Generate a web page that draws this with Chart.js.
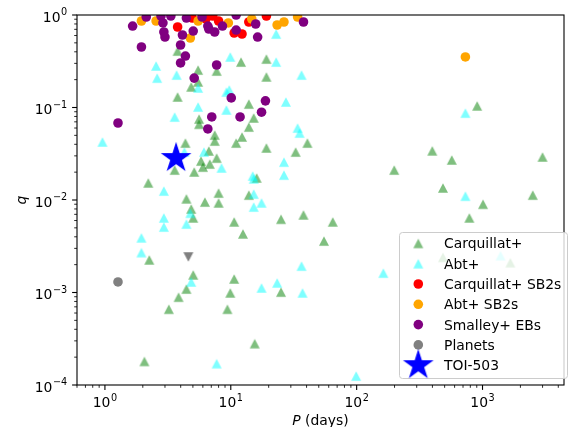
<!DOCTYPE html>
<html><head><meta charset="utf-8">
<script src="https://cdn.jsdelivr.net/npm/chart.js@4.4.0/dist/chart.umd.min.js"></script>
<style>html,body{margin:0;padding:0;background:#fff;}#wrap{width:579px;height:427px;}</style>
</head><body><div id="wrap"><canvas id="c" width="579" height="427"></canvas></div>
<script>
// ---------------- data (period P in days, mass ratio q) ----------------
const carquillatP = [3.78,5.5,7.72,12.06,19.19,19.19,5.5,4.85,3.78,13.91,15.21,5.6,5.6,13.91,7.45,7.45,12.28,11.03,4.36,19.19,32.78,40.6,6.69,7.72,5.80,6.01,6.81,3.58,5.12,16.05,2.21,8.0,4.44,6.23,8.0,13.91,4.85,5.03,10.64,12.5,25.07,37.81,2.25,5.03,4.44,3.85,3.22,10.64,9.91,9.40,25.07,15.49,2.06,55.0,64.6,906.6,398.9,570,2997,198.8,485,1009,2507,786,1663,485];
const carquillatQ = [0.408,0.254,0.248,0.310,0.334,0.214,0.189,0.167,0.130,0.109,0.077,0.075,0.066,0.0615,0.0504,0.0434,0.048,0.0413,0.0413,0.0365,0.033,0.0413,0.0339,0.0284,0.0264,0.0227,0.0245,0.0211,0.0201,0.0173,0.0153,0.0119,0.0103,0.0095,0.0093,0.0113,0.0080,0.0064,0.0058,0.0043,0.0062,0.0069,0.00225,0.00155,0.00109,0.00089,0.00066,0.0014,0.00099,0.00066,0.00101,0.00028,0.00018,0.0036,0.0058,0.104,0.034,0.0271,0.0292,0.0211,0.0135,0.0090,0.0113,0.0064,0.0021,0.0024];
const abtP = [22.94,9.91,22.94,2.55,2.60,3.71,36.48,5.5,9.23,9.73,27.42,5.5,3.58,9.23,33.96,35.2,0.956,6.12,4.28,8.44,26.45,26.45,14.94,15.21,2.94,15.21,17.55,15.21,4.77,2.94,2.94,4.44,1.95,1.95,4.85,17.55,23.35,36.48,37.14,7.72,731,731,163,99.1,1391];
const abtQ = [0.623,0.352,0.31,0.281,0.208,0.2245,0.2245,0.1625,0.147,0.155,0.1147,0.1013,0.0789,0.094,0.060,0.053,0.0424,0.033,0.033,0.0222,0.0257,0.0186,0.0182,0.0169,0.0125,0.0116,0.0093,0.0084,0.0072,0.0064,0.0051,0.0055,0.0039,0.0027,0.0013,0.00112,0.00127,0.00193,0.00099,0.00017,0.087,0.011,0.00162,0.000125,0.0025];
const carqSB2P = [3.78,4.94,6.34,7.19,8.0,10.64,12.28,13.91,19.19];
const carqSB2Q = [0.742,0.928,0.905,0.975,0.861,0.639,0.623,0.84,0.975];
const abtSB2P = [1.95,2.55,4.77,5.5,9.56,14.68,23.35,26.45,33.96,731];
const abtSB2Q = [0.861,0.861,0.564,0.861,0.82,0.905,0.78,0.84,0.951,0.352];
const smalleyP = [1.66,2.13,2.79,2.89,2.94,3.0,3.34,1.95,4.13,3.99,4.36,3.99,4.44,5.03,5.91,6.57,7.45,8.59,11.03,11.03,15.77,16.34,37.81,7.72,5.12,10.09,18.85,17.55,11.85,7.06,6.57,1.27,6.69];
const smalleyQ = [0.76,0.951,0.975,0.82,0.655,0.578,0.975,0.451,0.608,0.474,0.36,0.303,0.928,0.671,0.951,0.76,0.655,0.76,0.688,1.0,0.799,0.578,0.84,0.288,0.208,0.127,0.118,0.089,0.079,0.079,0.0586,0.068,0.706];
const planetP = [1.27];
const planetQ = [0.0013];
const planetLimP = [4.6];
const planetLimQ = [0.00242];
const toiP = [3.6772];
const toiQ = [0.0284];
const xTickPowers = [0, 1, 2, 3];
const yTickPowers = [0, -1, -2, -3, -4];
const legendLabels = ['Carquillat+', 'Abt+', 'Carquillat+ SB2s', 'Abt+ SB2s', 'Smalley+ EBs', 'Planets', 'TOI-503'];
const X_MIN = 0.6343, X_MAX = 4440, Y_MIN = 1e-4, Y_MAX = 1;

// ---------------- marker sprites ----------------
function triCanvas(color, up) {
  const S = 14, c = S / 2, hw = 5.0, hh = 4.7;
  const cv = document.createElement('canvas'); cv.width = cv.height = S;
  const g = cv.getContext('2d');
  g.beginPath();
  if (up) { g.moveTo(c, c - hh); g.lineTo(c + hw, c + hh); g.lineTo(c - hw, c + hh); }
  else { g.moveTo(c, c + hh); g.lineTo(c + hw, c - hh); g.lineTo(c - hw, c - hh); }
  g.closePath(); g.fillStyle = color; g.fill();
  return cv;
}
function starCanvas(color, R) {
  const r = R * 0.381966, S = 34, c = S / 2;
  const cv = document.createElement('canvas'); cv.width = cv.height = S;
  const g = cv.getContext('2d');
  g.beginPath();
  for (let i = 0; i < 10; i++) {
    const rad = i % 2 ? r : R, ang = -Math.PI / 2 + i * Math.PI / 5;
    const px = c + rad * Math.cos(ang), py = c + rad * Math.sin(ang);
    if (i) g.lineTo(px, py); else g.moveTo(px, py);
  }
  g.closePath(); g.fillStyle = color; g.fill();
  g.lineWidth = 1.39; g.strokeStyle = color; g.lineJoin = 'miter'; g.stroke();
  return cv;
}
const greenTri = triCanvas('rgba(0,128,0,0.5)', true);
const cyanTri = triCanvas('rgba(0,255,255,0.5)', true);
const greyTri = triCanvas('#808080', false);
const blueStar = starCanvas('#0000ff', 13.9);

const pts = (P, Q) => P.map((p, i) => ({ x: p, y: Q[i] }));
const circ = (label, P, Q, color, order) => ({ label, data: pts(P, Q), pointStyle: 'circle', pointRadius: 4.8, borderWidth: 0, backgroundColor: color, borderColor: color, order, clip: 0 });

const datasets = [
  { label: legendLabels[0], data: pts(carquillatP, carquillatQ), pointStyle: greenTri, pointRadius: 5, order: 8, clip: 0 },
  { label: legendLabels[1], data: pts(abtP, abtQ), pointStyle: cyanTri, pointRadius: 5, order: 7, clip: 0 },
  circ(legendLabels[2], carqSB2P, carqSB2Q, '#ff0000', 6),
  circ(legendLabels[3], abtSB2P, abtSB2Q, '#ffa500', 5),
  circ(legendLabels[4], smalleyP, smalleyQ, '#800080', 4),
  circ(legendLabels[5], planetP, planetQ, '#808080', 3),
  { label: '', data: pts(planetLimP, planetLimQ), pointStyle: greyTri, pointRadius: 5, order: 2, clip: 0 },
  { label: legendLabels[6], data: pts(toiP, toiQ), pointStyle: blueStar, pointRadius: 14, order: 1, clip: 0 }
];

const FONT = '"DejaVu Sans", Verdana, sans-serif';
function drawPow(ctx, e, x, baseY, align) {
  const base = '10', sup = (e < 0 ? '\u2212' : '') + Math.abs(e);
  ctx.font = '13.9px ' + FONT; const wb = ctx.measureText(base).width;
  ctx.font = '9.7px ' + FONT; const ws = ctx.measureText(sup).width;
  const tot = wb + ws + 0.5;
  let x0 = align === 'center' ? x - tot / 2 : x - tot;
  ctx.textAlign = 'left'; ctx.textBaseline = 'alphabetic'; ctx.fillStyle = '#000';
  ctx.font = '13.9px ' + FONT; ctx.fillText(base, x0, baseY);
  ctx.font = '9.7px ' + FONT; ctx.fillText(sup, x0 + wb + 0.5, baseY - 6.3);
}

const overlay = {
  id: 'overlay',
  beforeDraw(chart) { const c = chart.ctx; c.save(); c.fillStyle = '#fff'; c.fillRect(0, 0, chart.width, chart.height); c.restore(); },
  afterDraw(chart) {
    const ctx = chart.ctx, a = chart.chartArea, xs = chart.scales.x, ys = chart.scales.y;
    ctx.save();
    ctx.strokeStyle = '#000';
    for (let e = -5; e <= 5; e++) for (let k = 1; k < 10; k++) {
      const v = k * Math.pow(10, e), major = k === 1;
      ctx.lineWidth = major ? 1.1 : 0.83;
      const L = major ? 4.9 : 2.8;
      if (v >= xs.min * 0.9999 && v <= xs.max * 1.0001) {
        const px = xs.getPixelForValue(v);
        ctx.beginPath(); ctx.moveTo(px, a.bottom); ctx.lineTo(px, a.bottom + L); ctx.stroke();
      }
      if (v >= ys.min * 0.9999 && v <= ys.max * 1.0001) {
        const py = ys.getPixelForValue(v);
        ctx.beginPath(); ctx.moveTo(a.left, py); ctx.lineTo(a.left - L, py); ctx.stroke();
      }
    }
    ctx.lineWidth = 1.1;
    ctx.strokeRect(a.left, a.top, a.right - a.left, a.bottom - a.top);
    xTickPowers.forEach(e => drawPow(ctx, e, xs.getPixelForValue(Math.pow(10, e)), a.bottom + 22, 'center'));
    yTickPowers.forEach(e => drawPow(ctx, e, a.left - 9.8, ys.getPixelForValue(Math.pow(10, e)) + 6.6, 'right'));
    ctx.fillStyle = '#000'; ctx.textBaseline = 'alphabetic';
    ctx.font = 'italic 13.9px ' + FONT;
    const wP = ctx.measureText('P').width;
    ctx.font = '13.9px ' + FONT;
    const wD = ctx.measureText(' (days)').width;
    const cx = (a.left + a.right) / 2, x0 = cx - (wP + wD) / 2;
    ctx.textAlign = 'left';
    ctx.font = 'italic 13.9px ' + FONT; ctx.fillText('P', x0, 425);
    ctx.font = '13.9px ' + FONT; ctx.fillText(' (days)', x0 + wP, 425);
    ctx.save(); ctx.translate(26, (a.top + a.bottom) / 2); ctx.rotate(-Math.PI / 2);
    ctx.font = 'italic 13.9px ' + FONT; ctx.textAlign = 'center'; ctx.fillText('q', 0, 0); ctx.restore();
    const L0 = 399, T0 = 232, W = 168, H = 146;
    ctx.beginPath(); ctx.roundRect(L0 + 0.5, T0 + 0.5, W, H, 3);
    ctx.fillStyle = 'rgba(255,255,255,0.8)'; ctx.fill();
    ctx.strokeStyle = '#cccccc'; ctx.lineWidth = 1; ctx.stroke();
    const legendSets = datasets.filter(d => d.label);
    legendSets.forEach((d, i) => {
      const y = 243.4 + i * 20.3, mx = 418.3;
      if (d.pointStyle === 'circle') {
        ctx.beginPath(); ctx.arc(mx, y, 4.8, 0, Math.PI * 2); ctx.fillStyle = d.backgroundColor; ctx.fill();
      } else {
        const s = d.pointStyle; ctx.drawImage(s, mx - s.width / 2, y - s.height / 2);
      }
      ctx.fillStyle = '#000'; ctx.font = '13.9px ' + FONT; ctx.textAlign = 'left';
      ctx.fillText(d.label, 444, y + 5);
    });
    ctx.restore();
  }
};

new Chart(document.getElementById('c'), {
  type: 'scatter',
  data: { datasets },
  options: {
    responsive: false, animation: false, events: [],
    layout: { padding: { top: 15, right: 6, left: 0, bottom: 0 } },
    plugins: { legend: { display: false }, tooltip: { enabled: false } },
    scales: {
      x: { type: 'logarithmic', min: X_MIN, max: X_MAX, grid: { display: false }, border: { display: false }, ticks: { display: false }, afterFit: s => { s.height = 42; } },
      y: { type: 'logarithmic', min: Y_MIN, max: Y_MAX, grid: { display: false }, border: { display: false }, ticks: { display: false }, afterFit: s => { s.width = 77; } }
    }
  },
  plugins: [overlay]
});
</script></body></html>
